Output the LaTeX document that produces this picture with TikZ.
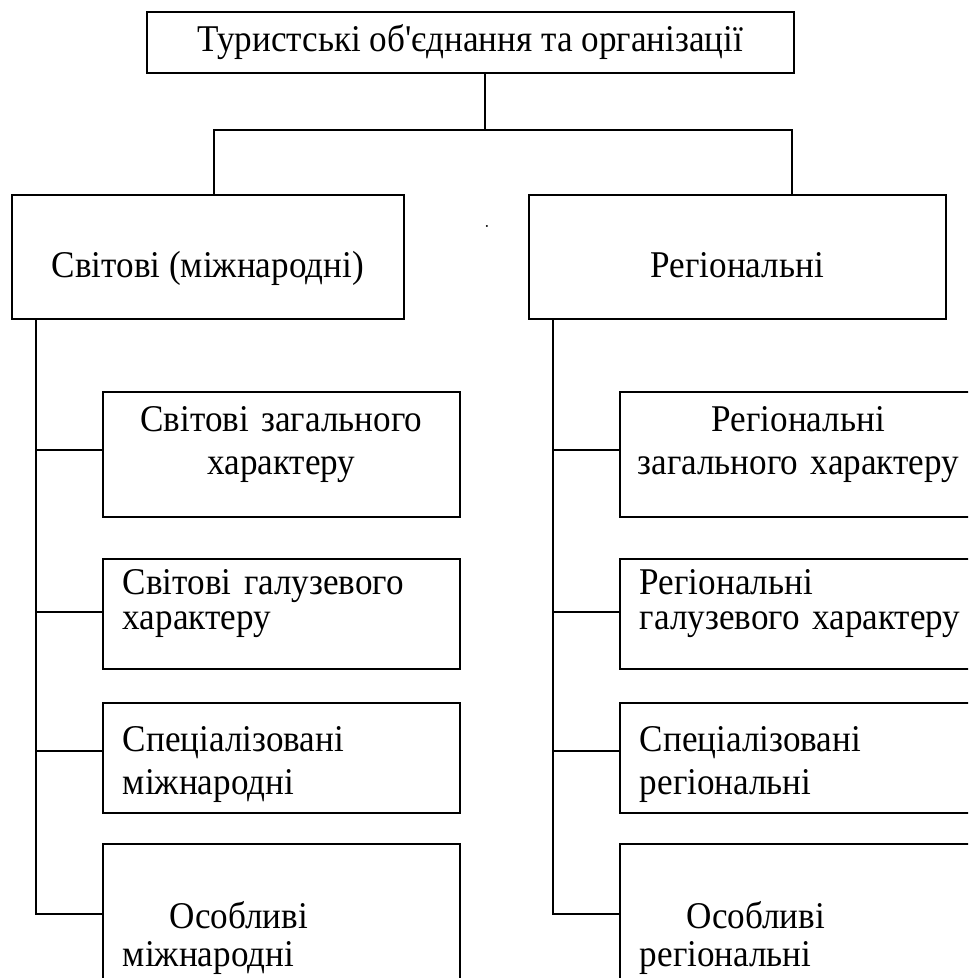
\documentclass[tikz,border=0pt]{standalone}
\usepackage{fontspec}
\newfontfamily\uafont{Liberation Serif}[FakeStretch=0.93]
\usetikzlibrary{calc}

\begin{document}
\begin{tikzpicture}[x=0.02cm, y=-0.02cm, line width=1pt,
    box/.style={draw, rectangle, anchor=north west, font=\uafont\fontsize{21.5pt}{24.5pt}\selectfont, text height=0pt, text depth=0pt},
    sub/.style={box, minimum width=7.14cm, text width=6.34cm, inner xsep=0.4cm, align=left}]
    % page frame
    \useasboundingbox (0,0) rectangle (968,978);
    \clip (0,0) rectangle (968,978);

    % top level
    \node[box, minimum width=12.94cm, minimum height=1.22cm, text height=0.38cm] (top) at (146,11) {Туристські об'єднання та організації};

    % second level
    \node[box, minimum width=7.84cm, minimum height=2.48cm, text height=0.84cm] (world) at (11,194) {Світові (міжнародні)};
    \node[box, minimum width=8.34cm, minimum height=2.48cm, text height=0.84cm] (region) at (528,194) {Регіональні};
    \node[font=\fontsize{12pt}{12pt}\selectfont] (dot) at (487,226) {.};

    % world branch
    \node[sub, align=center, minimum height=2.5cm, text depth=0.9cm] (w1) at (102,391) {Світові загального\\характеру};
    \node[sub, minimum height=2.2cm, text depth=0.76cm] (w2) at (102,558) {Світові галузевого\\[-4.6pt]характеру};
    \node[sub, minimum height=2.2cm, text depth=0.24cm] (w3) at (102,702) {Спеціалізовані\\міжнародні};
    \node[sub, minimum height=2.8cm, text height=0.6cm] (w4) at (102,843) {\hspace*{0.94cm}Особливі\\[-3pt]міжнародні};

    % regional branch
    \node[sub, align=center, inner xsep=0.1cm, text width=6.94cm, minimum height=2.5cm, text depth=0.9cm] (r1) at (619,391) {Регіональні\\загального характеру};
    \node[sub, text width=7cm, minimum height=2.2cm, text depth=0.76cm] (r2) at (619,558) {Регіональні\\[-4.6pt]галузевого характеру};
    \node[sub, minimum height=2.2cm, text depth=0.24cm] (r3) at (619,702) {Спеціалізовані\\регіональні};
    \node[sub, minimum height=2.8cm, text height=0.6cm] (r4) at (619,843) {\hspace*{0.94cm}Особливі\\[-3pt]регіональні};

    % connectors
    \coordinate (fork) at (485,130);
    \coordinate (jl) at (214,130);
    \coordinate (jr) at (792,130);
    \draw (top.south -| fork) -- (fork);
    \draw (world.north -| jl) -- (jl) -- (jr) -- (region.north -| jr);

    \coordinate (ws) at (36,318);
    \coordinate (rs) at (553,318);
    \draw (ws) |- (w4.west);
    \draw (rs) |- (r4.west);
    \foreach \b/\s/\dy in {w1/ws/-4.5, w2/ws/-2, w3/ws/-7, r1/rs/-4.5, r2/rs/-2, r3/rs/-7}
        \draw ($(\b.west)+(0,\dy)$) -| (\s);
\end{tikzpicture}
\end{document}
